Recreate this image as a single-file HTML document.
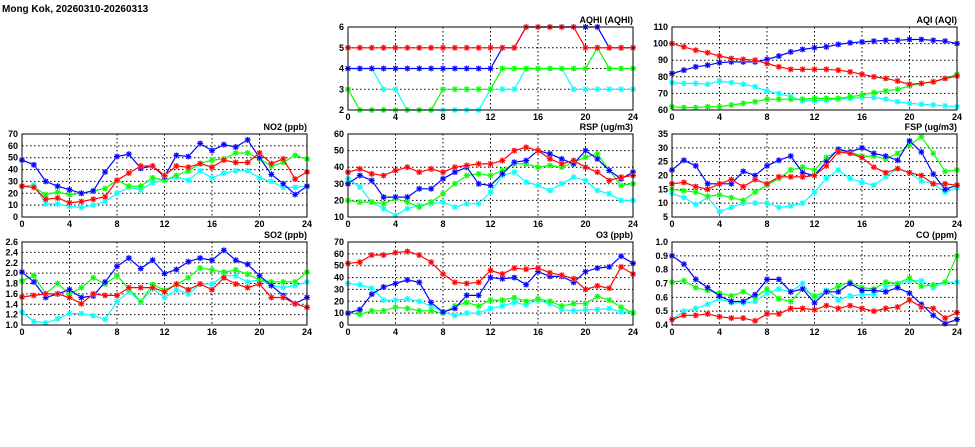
<!DOCTYPE html>
<html><head><meta charset="utf-8"><style>
html,body{margin:0;padding:0;background:#fff;width:975px;height:447px;overflow:hidden}
svg{display:block}
text{font-family:"Liberation Sans",sans-serif;font-weight:bold;font-size:9px;fill:#000}
</style></head><body>
<svg id="s" width="975" height="447" xmlns="http://www.w3.org/2000/svg">
<text x="2" y="12" style="font-size:10px">Mong Kok, 20260310-20260313</text>

<g transform="translate(348,27)"><text x="285" y="-4" text-anchor="end">AQHI (AQHI)</text>
<g text-anchor="end"><text x="-4" y="86">2</text><text x="-4" y="65.3">3</text><text x="-4" y="44.5">4</text><text x="-4" y="23.8">5</text><text x="-4" y="3">6</text></g></g>
<g transform="translate(672,27)"><text x="285" y="-4" text-anchor="end">AQI (AQI)</text>
<g text-anchor="end"><text x="-4" y="86">60</text><text x="-4" y="69.4">70</text><text x="-4" y="52.8">80</text><text x="-4" y="36.2">90</text><text x="-4" y="19.6">100</text><text x="-4" y="3">110</text></g></g>

<g transform="translate(22,134)"><text x="285" y="-4" text-anchor="end">NO2 (ppb)</text>
<g text-anchor="end"><text x="-4" y="86">0</text><text x="-4" y="74.1">10</text><text x="-4" y="62.3">20</text><text x="-4" y="50.4">30</text><text x="-4" y="38.6">40</text><text x="-4" y="26.7">50</text><text x="-4" y="14.9">60</text><text x="-4" y="3">70</text></g></g>
<g transform="translate(348,134)"><text x="285" y="-4" text-anchor="end">RSP (ug/m3)</text>
<g text-anchor="end"><text x="-4" y="86">10</text><text x="-4" y="69.4">20</text><text x="-4" y="52.8">30</text><text x="-4" y="36.2">40</text><text x="-4" y="19.6">50</text><text x="-4" y="3">60</text></g></g>
<g transform="translate(672,134)"><text x="285" y="-4" text-anchor="end">FSP (ug/m3)</text>
<g text-anchor="end"><text x="-4" y="86">5</text><text x="-4" y="72.2">10</text><text x="-4" y="58.3">15</text><text x="-4" y="44.5">20</text><text x="-4" y="30.7">25</text><text x="-4" y="16.8">30</text><text x="-4" y="3">35</text></g></g>

<g transform="translate(22,242)"><text x="285" y="-4" text-anchor="end">SO2 (ppb)</text>
<g text-anchor="end"><text x="-4" y="86">1.0</text><text x="-4" y="75.6">1.2</text><text x="-4" y="65.3">1.4</text><text x="-4" y="54.9">1.6</text><text x="-4" y="44.5">1.8</text><text x="-4" y="34.1">2.0</text><text x="-4" y="23.8">2.2</text><text x="-4" y="13.4">2.4</text><text x="-4" y="3">2.6</text></g></g>
<g transform="translate(348,242)"><text x="285" y="-4" text-anchor="end">O3 (ppb)</text>
<g text-anchor="end"><text x="-4" y="86">0</text><text x="-4" y="74.1">10</text><text x="-4" y="62.3">20</text><text x="-4" y="50.4">30</text><text x="-4" y="38.6">40</text><text x="-4" y="26.7">50</text><text x="-4" y="14.9">60</text><text x="-4" y="3">70</text></g></g>
<g transform="translate(672,242)"><text x="285" y="-4" text-anchor="end">CO (ppm)</text>
<g text-anchor="end"><text x="-4" y="86">0.4</text><text x="-4" y="72.2">0.5</text><text x="-4" y="58.3">0.6</text><text x="-4" y="44.5">0.7</text><text x="-4" y="30.7">0.8</text><text x="-4" y="16.8">0.9</text><text x="-4" y="3">1.0</text></g></g>

<g text-anchor="middle">
<g transform="translate(348,27)"><text x="0" y="93">0</text><text x="47.5" y="93">4</text><text x="95" y="93">8</text><text x="142.5" y="93">12</text><text x="190" y="93">16</text><text x="237.5" y="93">20</text><text x="285" y="93">24</text></g>
<g transform="translate(672,27)"><text x="0" y="93">0</text><text x="47.5" y="93">4</text><text x="95" y="93">8</text><text x="142.5" y="93">12</text><text x="190" y="93">16</text><text x="237.5" y="93">20</text><text x="285" y="93">24</text></g>
<g transform="translate(22,134)"><text x="0" y="93">0</text><text x="47.5" y="93">4</text><text x="95" y="93">8</text><text x="142.5" y="93">12</text><text x="190" y="93">16</text><text x="237.5" y="93">20</text><text x="285" y="93">24</text></g>
<g transform="translate(348,134)"><text x="0" y="93">0</text><text x="47.5" y="93">4</text><text x="95" y="93">8</text><text x="142.5" y="93">12</text><text x="190" y="93">16</text><text x="237.5" y="93">20</text><text x="285" y="93">24</text></g>
<g transform="translate(672,134)"><text x="0" y="93">0</text><text x="47.5" y="93">4</text><text x="95" y="93">8</text><text x="142.5" y="93">12</text><text x="190" y="93">16</text><text x="237.5" y="93">20</text><text x="285" y="93">24</text></g>
<g transform="translate(22,242)"><text x="0" y="93">0</text><text x="47.5" y="93">4</text><text x="95" y="93">8</text><text x="142.5" y="93">12</text><text x="190" y="93">16</text><text x="237.5" y="93">20</text><text x="285" y="93">24</text></g>
<g transform="translate(348,242)"><text x="0" y="93">0</text><text x="47.5" y="93">4</text><text x="95" y="93">8</text><text x="142.5" y="93">12</text><text x="190" y="93">16</text><text x="237.5" y="93">20</text><text x="285" y="93">24</text></g>
<g transform="translate(672,242)"><text x="0" y="93">0</text><text x="47.5" y="93">4</text><text x="95" y="93">8</text><text x="142.5" y="93">12</text><text x="190" y="93">16</text><text x="237.5" y="93">20</text><text x="285" y="93">24</text></g>
</g>
</svg>
<script>
var W=285,H=83,NS="http://www.w3.org/2000/svg",svg=document.getElementById('s');
function el(t,a){var e=document.createElementNS(NS,t);for(var k in a)e.setAttribute(k,a[k]);svg.appendChild(e);return e;}
var P=[
{x:348,y:27,min:2,max:6,nt:4,d:{
c:[4,4,4,3,3,2,2,2,2,2,2,2,3,3,3,4,4,4,4,3,3,3,3,3,3],
g:[3,2,2,2,2,2,2,2,3,3,3,3,3,4,4,4,4,4,4,4,4,5,4,4,4],
b:[4,4,4,4,4,4,4,4,4,4,4,4,4,5,5,6,6,6,6,6,6,6,5,5,5],
r:[5,5,5,5,5,5,5,5,5,5,5,5,5,5,5,6,6,6,6,6,5,5,5,5,5]}},
{x:672,y:27,min:60,max:110,nt:5,d:{
c:[76.5,76,76,75.5,77.5,76.5,75.5,74,71.5,70,68,65.5,65.5,66,66.5,67,67.5,67.5,66.5,65,64,63.5,63,62.5,62],
g:[62,61.5,61.5,62,62,63,64,65,66.5,66.5,66.5,66.5,67,67,67,68,69,70.5,71.5,72.5,74.5,76,77,79,81.5],
b:[82,84,86,87,88.5,89,89,89,90.5,92.5,95,96.5,97.5,98,99.5,100.5,101,101.5,102,102,102.5,102.5,102,101.5,100],
r:[100,98,96,94.5,92.5,91,90.5,90,88,86,84.5,84.5,84.5,84.5,84,83,81.5,80,79,77.5,75.5,76,77,79,80.5]}},
{x:22,y:134,min:0,max:70,nt:7,d:{
c:[26,27,11,11,9,8,10,13,20,25,23,29,31,34,31,39,33,37,39,39,33,30,25,25,26],
g:[26,25,19,21,19,20,22,24,31,26,26,33,31,35,39,45,48,49,54,54,49,43,46,52,49],
b:[48,44,30,26,23,20,22,38,51,53,41,43,34,52,51,62,56,61,59,65,50,36,28,19,26],
r:[26,25,15,16,12,13,15,17,31,37,43,43,35,43,42,45,42,48,46,46,54,45,49,32,38]}},
{x:348,y:134,min:10,max:60,nt:5,d:{
c:[33,28,19,15,11,15,17,18,19,16,18,18,25,35,37,31,29,26,30,34,32,26,24,20,20],
g:[20,19,19,18,21,19,16,19,24,30,35,36,35,38,42,42,40,41,40,43,46,48,38,29,30],
b:[30,35,32,22,22,22,27,27,33,37,40,30,29,36,43,44,50,48,45,42,50,45,38,33,37],
r:[37,39,36,35,38,40,37,39,37,40,41,42,42,44,50,52,50,45,42,44,40,37,32,34,35]}},
{x:672,y:134,min:5,max:35,nt:6,d:{
c:[13.5,12,9.5,12,7,8.5,10,10,10,8.5,9,10,14,19,22,19,17.5,16.5,19.5,22.5,21,18,17,14,15.5],
g:[15,14.5,14,12.5,13,12,11,14,16.5,19,22,23,22,26.5,29,28.5,27,27,26,28,31,34,28,21.5,22],
b:[22,25.5,23.5,17,17,17,21.5,20,23.5,25.5,27,21,20,25,29.5,28.5,30,28,27,25.5,32.5,28.5,20.5,15,16.5],
r:[17,17.5,16,15,17,18.5,16,18.5,17,19.5,19.5,19.5,20,23.5,28.5,28,26.5,23,21,22.5,21,20,17,17,16.5]}},
{x:22,y:242,min:1,max:2.6,nt:8,d:{
c:[1.25,1.07,1.04,1.12,1.22,1.22,1.18,1.11,1.45,1.64,1.45,1.7,1.53,1.68,1.6,1.79,1.79,1.95,1.95,1.83,1.87,1.76,1.72,1.76,1.83],
g:[1.85,1.95,1.6,1.8,1.6,1.72,1.91,1.79,1.95,1.7,1.45,1.78,1.67,1.78,1.91,2.1,2.06,2.02,2.06,1.98,1.87,1.83,1.83,1.83,2.02],
b:[2.02,1.83,1.53,1.6,1.68,1.53,1.56,1.83,2.13,2.29,2.09,2.25,1.99,2.07,2.22,2.29,2.25,2.44,2.25,2.17,1.95,1.76,1.57,1.41,1.53],
r:[1.54,1.57,1.6,1.6,1.53,1.41,1.6,1.57,1.57,1.72,1.72,1.72,1.64,1.79,1.68,1.79,1.68,1.91,1.79,1.72,1.79,1.53,1.53,1.41,1.34]}},
{x:348,y:242,min:0,max:70,nt:7,d:{
c:[35,34,31,21,21,22,20,16,11,8,10,10,14,16,19,17,21,18,13,12,13,13,14,11,11],
g:[10,9,12,12,15,14,12,12,10,16,19,16,21,21,23,20,22,20,16,18,18,24,21,15,10],
b:[10,13,26,32,35,38,36,19,11,14,25,25,40,39,40,34,45,41,41,36,45,48,49,58,52],
r:[52,53,59,59,61,62,59,53,43,36,35,36,46,43,48,47,48,44,42,39,30,33,31,49,43]}},
{x:672,y:242,min:0.4,max:1.0,nt:6,d:{
c:[.44,.50,.52,.55,.59,.56,.56,.57,.63,.66,.64,.70,.58,.65,.58,.61,.62,.62,.68,.69,.72,.72,.67,.71,.71],
g:[.71,.72,.67,.65,.63,.61,.64,.60,.66,.59,.57,.66,.61,.64,.68,.71,.67,.66,.71,.70,.74,.68,.69,.71,.90],
b:[.90,.84,.73,.67,.61,.57,.57,.62,.73,.73,.64,.66,.56,.64,.64,.70,.65,.65,.64,.67,.63,.55,.47,.41,.44],
r:[.44,.47,.47,.48,.46,.45,.45,.43,.48,.48,.52,.52,.51,.54,.52,.54,.52,.50,.52,.53,.58,.53,.52,.45,.49]}}
];
var COL={c:["#00ffff","#a0ffff"],g:["#00ff00","#a0ffa0"],b:["#0000ff","#a0a0ff"],r:["#ff0000","#ffa0a0"]};
P.forEach(function(p){
  var i;
  for(i=1;i<p.nt;i++){var y=p.y+H*i/p.nt;el('line',{x1:p.x,x2:p.x+W,y1:y,y2:y,stroke:'#000','stroke-width':1,'stroke-dasharray':'1.5,2.5'});}
  for(i=1;i<6;i++){var x=p.x+W*i/6;el('line',{x1:x,x2:x,y1:p.y,y2:p.y+H,stroke:'#000','stroke-width':1,'stroke-dasharray':'1.5,2.5'});}
  ['c','g','b','r'].forEach(function(k){
    var d=p.d[k],pts=[];
    for(var j=0;j<25;j++){pts.push([p.x+W*j/24,p.y+H*(1-(d[j]-p.min)/(p.max-p.min))]);}
    var s=pts.map(function(q){return q[0].toFixed(1)+','+q[1].toFixed(1)}).join(' ');
    el('polyline',{points:s,fill:'none',stroke:COL[k][0],'stroke-width':1.2});
    pts.forEach(function(q){
      el('rect',{x:q[0]-2.5,y:q[1]-2.5,width:5,height:5,fill:COL[k][1]});
      el('path',{d:'M'+(q[0]-3)+','+q[1]+'h6M'+q[0]+','+(q[1]-3)+'v6M'+(q[0]-2.2)+','+(q[1]-2.2)+'l4.4,4.4M'+(q[0]-2.2)+','+(q[1]+2.2)+'l4.4,-4.4',stroke:COL[k][0],'stroke-width':1,fill:'none'});
    });
  });
  el('rect',{x:p.x,y:p.y,width:W,height:H,fill:'none',stroke:'#000','stroke-width':1});
});
</script>
</body></html>
